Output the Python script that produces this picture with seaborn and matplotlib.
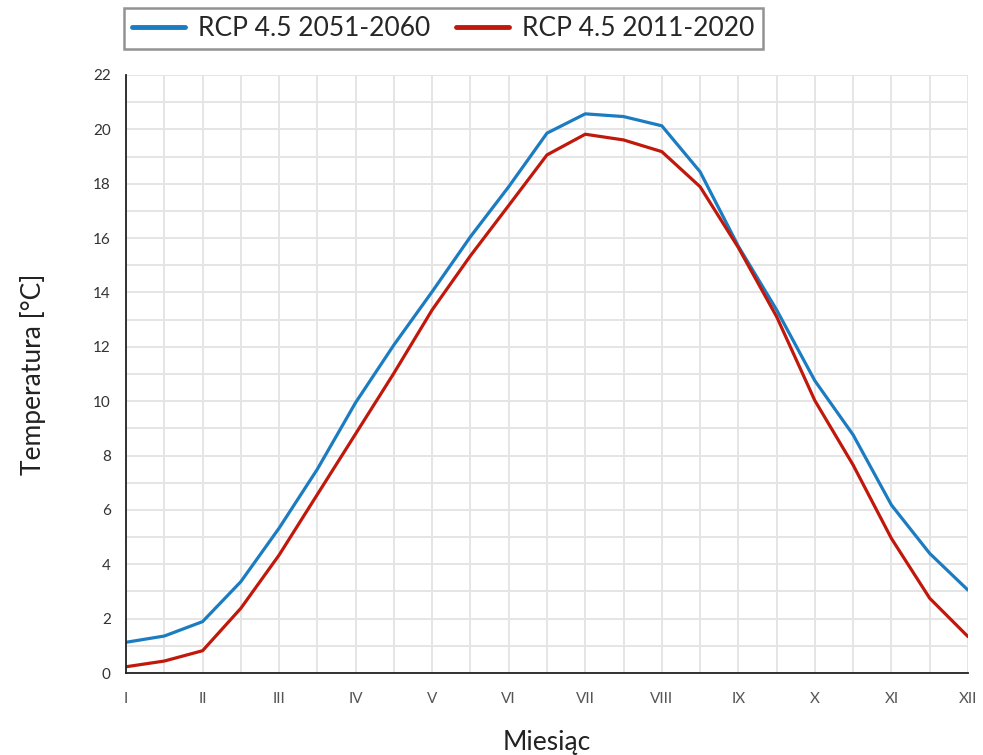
import matplotlib
matplotlib.use("Agg")
import matplotlib.pyplot as plt
import pandas as pd
import seaborn as sns
from matplotlib.ticker import MultipleLocator

# Polozenie w miesiacach (co pol miesiaca).
month_pos = [1, 1.5, 2, 2.5, 3, 3.5, 4, 4.5, 5, 5.5, 6, 6.5,
             7, 7.5, 8, 8.5, 9, 9.5, 10, 10.5, 11, 11.5, 12]
temp_2051_2060 = [1.13, 1.36, 1.89, 3.36, 5.33, 7.5, 9.95, 12.07, 14.03, 16.05,
                  17.89, 19.86, 20.57, 20.47, 20.13, 18.44, 15.7, 13.36, 10.75,
                  8.76, 6.18, 4.4, 3.05]
temp_2011_2020 = [0.23, 0.44, 0.82, 2.38, 4.34, 6.57, 8.8, 11.03, 13.36, 15.35,
                  17.2, 19.06, 19.82, 19.61, 19.18, 17.89, 15.65, 13.11, 10.02,
                  7.65, 4.95, 2.75, 1.34]
series_names = ["RCP 4.5 2051-2060", "RCP 4.5 2011-2020"]
series_colors = ["#1b7cc1", "#c0190c"]
month_ticks = [1, 2, 3, 4, 5, 6, 7, 8, 9, 10, 11, 12]
month_labels = ["I", "II", "III", "IV", "V", "VI", "VII", "VIII", "IX", "X", "XI", "XII"]

df = pd.concat([
    pd.DataFrame({"miesiac": month_pos, "temp": temp_2051_2060, "seria": series_names[0]}),
    pd.DataFrame({"miesiac": month_pos, "temp": temp_2011_2020, "seria": series_names[1]}),
])

sns.set_theme(style="white")
plt.rcParams["font.family"] = ["Lato", "DejaVu Sans"]

fig = plt.figure(figsize=(9.83, 7.55), dpi=100)
ax = fig.add_axes([0.1282, 0.1086, 0.8565, 0.7921])

sns.lineplot(data=df, x="miesiac", y="temp", hue="seria", hue_order=series_names,
             palette=series_colors, linewidth=2.3, ax=ax, legend=False)

ax.set_xlim(1, 12)
ax.set_ylim(0, 22)
ax.set_xticks(month_ticks)
ax.set_xticklabels(month_labels)
ax.xaxis.set_minor_locator(MultipleLocator(0.5))
ax.yaxis.set_major_locator(MultipleLocator(2))
ax.yaxis.set_minor_locator(MultipleLocator(1))
ax.grid(which="both", color="#e5e5e5", linewidth=1.4)
ax.set_axisbelow(True)

for s in ["top", "right"]:
    ax.spines[s].set_visible(False)
for s in ["left", "bottom"]:
    ax.spines[s].set_color("#222222")
    ax.spines[s].set_linewidth(1.3)

ax.tick_params(axis="both", which="major", direction="out", length=6, width=1.6,
               color="#555555", labelsize=11, labelcolor="#333333", pad=5)
ax.tick_params(axis="both", which="minor", length=0)
ax.tick_params(axis="x", pad=8, labelcolor="#555555")

ax.set_xlabel("Miesiąc", fontsize=19, color="#222222", labelpad=17)
ax.set_ylabel("Temperatura [°C]", fontsize=19, color="#222222", labelpad=34)

handles = [plt.Line2D([], [], color=c, linewidth=3.5) for c in series_colors]
leg = fig.legend(handles, series_names, loc="upper left", bbox_to_anchor=(0.126, 0.989),
                 borderaxespad=0, ncol=2, fontsize=19, frameon=True, fancybox=False,
                 handlelength=2.0, handletextpad=0.5, columnspacing=1.0, borderpad=0.3)
leg.get_frame().set_edgecolor("#777777")
leg.get_frame().set_linewidth(1.8)

fig.savefig("out.png", dpi=100)
